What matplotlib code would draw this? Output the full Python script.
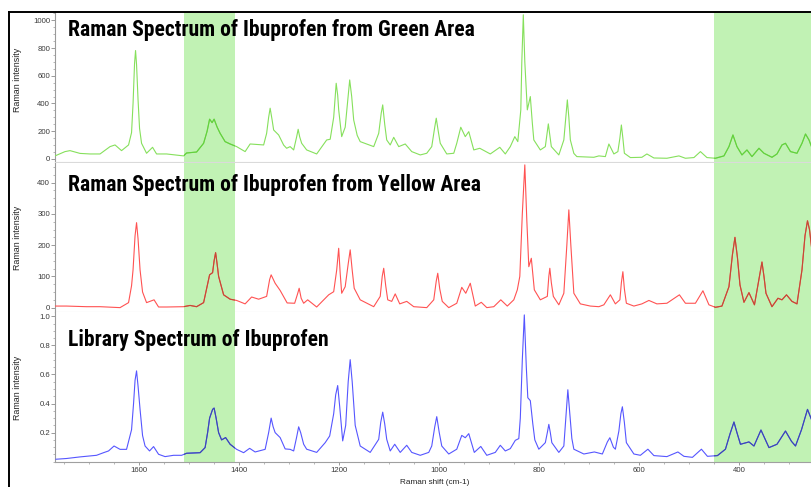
import matplotlib
matplotlib.use("Agg")
import matplotlib.pyplot as plt
from matplotlib.lines import Line2D
from matplotlib.ticker import MultipleLocator
from matplotlib import font_manager

# ---------------- data ----------------
green_spectrum = [
    (1767, 22), (1747, 53), (1737, 60), (1717, 40), (1697, 36), (1677, 36),
    (1657, 89), (1647, 101), (1634, 60), (1620, 101), (1614, 190), (1611, 400),
    (1608, 690), (1606, 782), (1604, 680), (1601, 426), (1598, 220), (1594, 113),
    (1584, 41), (1572, 84), (1564, 36), (1544, 36), (1510, 22), (1504, 43),
    (1484, 50), (1470, 113), (1463, 200), (1458, 287), (1453, 262), (1449, 287),
    (1443, 230), (1437, 185), (1427, 125), (1417, 108), (1404, 89), (1387, 53),
    (1377, 108), (1350, 101), (1344, 185), (1340, 300), (1337, 366), (1333, 280),
    (1330, 209), (1320, 173), (1310, 100), (1304, 77), (1297, 89), (1290, 65),
    (1284, 160), (1281, 214), (1278, 160), (1274, 113), (1264, 65), (1244, 36),
    (1224, 137), (1217, 142), (1210, 300), (1205, 546), (1202, 460), (1200, 354),
    (1194, 161), (1187, 229), (1182, 420), (1178, 570), (1174, 450), (1170, 281),
    (1163, 170), (1157, 125), (1130, 89), (1120, 185), (1115, 330), (1112, 390),
    (1108, 250), (1104, 137), (1097, 101), (1090, 156), (1080, 89), (1067, 108),
    (1054, 53), (1037, 29), (1024, 41), (1014, 89), (1008, 230), (1005, 294),
    (1001, 200), (997, 113), (984, 36), (970, 41), (964, 113), (956, 229),
    (947, 161), (940, 197), (930, 65), (918, 77), (897, 36), (878, 84),
    (867, 36), (857, 89), (848, 161), (842, 125), (836, 354), (834, 700),
    (831, 1040), (828, 700), (823, 354), (817, 450), (813, 260), (810, 137),
    (797, 65), (787, 89), (781, 253), (775, 89), (760, 29), (750, 137),
    (746, 300), (743, 426), (740, 300), (737, 137), (730, 40), (724, 17),
    (690, 12), (680, 22), (667, 17), (660, 108), (650, 36), (642, 53),
    (638, 150), (635, 245), (632, 150), (629, 41), (617, 10), (594, 12),
    (584, 36), (570, 7), (544, 5), (520, 22), (507, 5), (490, 10), (477, 53),
    (464, 10), (447, 5), (430, 22), (420, 89), (412, 173), (404, 89), (394, 29),
    (384, 65), (374, 17), (360, 77), (350, 41), (334, 12), (324, 36), (314, 101),
    (307, 113), (297, 53), (284, 41), (274, 113), (267, 180), (260, 137), (255, 89),
]

red_spectrum = [
    (1767, 5), (1744, 5), (1704, 3), (1677, 3), (1637, 0), (1620, 16),
    (1614, 70), (1611, 121), (1607, 230), (1604, 272), (1601, 220), (1597, 121),
    (1592, 50), (1584, 16), (1569, 25), (1560, 2), (1544, 2), (1510, 3),
    (1497, 7), (1484, 3), (1470, 16), (1458, 105), (1452, 112), (1449, 150),
    (1446, 176), (1443, 140), (1440, 100), (1430, 41), (1417, 27), (1404, 23),
    (1387, 12), (1374, 34), (1360, 27), (1344, 36), (1338, 90), (1335, 105),
    (1327, 78), (1317, 55), (1303, 15), (1288, 14), (1282, 45), (1279, 62),
    (1275, 30), (1270, 14), (1262, 25), (1244, 2), (1220, 41), (1210, 51),
    (1204, 120), (1200, 190), (1197, 110), (1194, 46), (1187, 67), (1181, 140),
    (1177, 185), (1173, 120), (1169, 62), (1157, 25), (1130, 3), (1117, 36),
    (1113, 100), (1110, 126), (1106, 70), (1102, 25), (1094, 20), (1087, 44),
    (1078, 12), (1064, 20), (1050, 3), (1024, 0), (1010, 25), (1005, 85),
    (1002, 110), (998, 60), (993, 20), (980, 0), (964, 14), (954, 65),
    (946, 46), (937, 78), (927, 5), (915, 17), (904, 0), (890, 3), (876, 25),
    (863, 5), (850, 25), (843, 57), (838, 100), (833, 300), (828, 457),
    (824, 280), (820, 131), (815, 158), (809, 57), (797, 25), (783, 36),
    (780, 100), (778, 126), (775, 80), (771, 36), (760, 9), (750, 46),
    (744, 200), (740, 313), (736, 200), (730, 46), (717, 12), (697, 5),
    (680, 3), (670, 9), (657, 41), (647, 12), (638, 25), (635, 80), (632, 115),
    (629, 60), (625, 14), (610, 5), (594, 12), (580, 23), (564, 12), (544, 14),
    (519, 41), (507, 14), (487, 14), (472, 54), (460, 9), (447, 1), (434, 5),
    (420, 67), (413, 170), (408, 225), (403, 160), (398, 73), (390, 17),
    (380, 48), (369, 9), (358, 110), (354, 146), (350, 100), (346, 46),
    (334, 3), (322, 30), (314, 25), (305, 41), (294, 20), (284, 12), (274, 121),
    (268, 230), (263, 278), (259, 250), (255, 195),
]

blue_spectrum = [
    (1765, 0.017), (1744, 0.022), (1717, 0.033), (1684, 0.044), (1670, 0.062),
    (1660, 0.074), (1649, 0.108), (1637, 0.085), (1624, 0.085), (1614, 0.22),
    (1610, 0.40), (1607, 0.56), (1604, 0.625), (1601, 0.52), (1597, 0.36),
    (1592, 0.18), (1587, 0.108), (1578, 0.074), (1570, 0.104), (1560, 0.051),
    (1547, 0.035), (1530, 0.044), (1514, 0.044), (1504, 0.058), (1477, 0.062),
    (1467, 0.097), (1462, 0.2), (1458, 0.3), (1452, 0.36), (1449, 0.369),
    (1445, 0.3), (1440, 0.2), (1434, 0.15), (1426, 0.166), (1417, 0.12),
    (1404, 0.085), (1390, 0.062), (1378, 0.092), (1367, 0.067), (1347, 0.085),
    (1340, 0.2), (1335, 0.3), (1331, 0.24), (1327, 0.2), (1317, 0.166),
    (1307, 0.088), (1297, 0.085), (1290, 0.074), (1284, 0.17), (1280, 0.24),
    (1276, 0.2), (1270, 0.12), (1264, 0.086), (1244, 0.064), (1227, 0.131),
    (1218, 0.177), (1210, 0.33), (1206, 0.46), (1202, 0.524), (1198, 0.38),
    (1192, 0.143), (1186, 0.25), (1181, 0.55), (1177, 0.702), (1173, 0.55),
    (1167, 0.25), (1157, 0.108), (1137, 0.064), (1120, 0.154), (1116, 0.27),
    (1112, 0.341), (1108, 0.26), (1104, 0.154), (1097, 0.074), (1088, 0.12),
    (1077, 0.064), (1064, 0.113), (1054, 0.064), (1037, 0.044), (1020, 0.064),
    (1014, 0.108), (1008, 0.24), (1004, 0.31), (999, 0.2), (994, 0.108),
    (980, 0.053), (964, 0.086), (954, 0.181), (947, 0.165), (940, 0.193),
    (929, 0.064), (916, 0.105), (904, 0.044), (887, 0.064), (877, 0.113),
    (867, 0.074), (857, 0.09), (847, 0.147), (840, 0.159), (837, 0.3),
    (833, 0.7), (829, 1.01), (825, 0.65), (822, 0.44), (817, 0.42), (812, 0.26),
    (808, 0.15), (800, 0.086), (787, 0.131), (783, 0.2), (780, 0.257),
    (777, 0.2), (774, 0.131), (760, 0.064), (750, 0.108), (746, 0.3),
    (742, 0.495), (738, 0.33), (734, 0.16), (730, 0.086), (710, 0.053),
    (689, 0.067), (673, 0.053), (663, 0.136), (658, 0.165), (651, 0.1),
    (647, 0.086), (640, 0.211), (636, 0.33), (633, 0.378), (629, 0.27),
    (625, 0.131), (610, 0.053), (597, 0.044), (582, 0.086), (570, 0.042),
    (544, 0.035), (522, 0.067), (510, 0.037), (493, 0.03), (475, 0.086),
    (463, 0.037), (443, 0.042), (427, 0.086), (418, 0.19), (410, 0.273),
    (404, 0.2), (397, 0.12), (380, 0.136), (370, 0.108), (356, 0.218),
    (340, 0.097), (324, 0.12), (307, 0.211), (295, 0.14), (287, 0.108),
    (275, 0.22), (263, 0.36), (255, 0.29),
]

titles = ["Raman Spectrum of Ibuprofen from Green Area",
          "Raman Spectrum of Ibuprofen from Yellow Area",
          "Library Spectrum of Ibuprofen"]
highlight_bands = [(1510, 1407), (449, 200)]
x_ticks = [1600, 1400, 1200, 1000, 800, 600, 400]
y_ticks_top = [0, 200, 400, 600, 800, 1000]
y_ticks_mid = [0, 100, 200, 300, 400]
y_ticks_bot = [0.2, 0.4, 0.6, 0.8, 1.0]
x_label = "Raman shift (cm-1)"
y_label = "Raman intensity"

# ---------------- style ----------------
fonts = font_manager.fontManager.ttflist
names = {f.name for f in fonts}
title_kw = dict(family=['Liberation Sans'], fontweight='bold')
if 'Liberation Sans Narrow' in names:
    title_kw = dict(family=['Liberation Sans Narrow'], fontweight='bold')
elif 'Roboto Condensed' in names:
    title_kw = dict(family=['Roboto Condensed'], fontweight='bold')
elif any(f.name == 'DejaVu Sans' and 'ondensed' in str(f.stretch) for f in fonts):
    title_kw = dict(family=['DejaVu Sans'], fontweight='bold', fontstretch='condensed')
elif 'Roboto' in names:
    title_kw = dict(family=['Roboto'], fontweight='bold')

plt.rcParams['font.family'] = ['Liberation Sans', 'DejaVu Sans']

W, H = 811, 487
fig = plt.figure(figsize=(W / 100, H / 100), dpi=100)
fig.patch.set_facecolor('white')

def fx(px):
    return px / W

def fy(py):
    return 1 - py / H

left_px, right_px = 54.5, 811
panels_px = [(12, 162), (163, 312), (312, 461.7)]
ylims = [(-22, 1060), (-14, 463), (0, 1.03)]
yticks = [y_ticks_top, y_ticks_mid, y_ticks_bot]
yminor = [50, 25, 0.05]
series = [green_spectrum, red_spectrum, blue_spectrum]
colors = ['#86e05c', '#ff5252', '#5656ff']
band_colors = ['#62d03e', '#c24a36', '#3c48b0']
band_fill = '#c1f2b4'
title_base_px = [36, 191.5, 346]
title_width_px = 408  # width of the first title in the reference
ylabel_center_px = [80, 237.5, 387.5]

axes = []
title_texts = []
for i, (top, bot) in enumerate(panels_px):
    ax = fig.add_axes([fx(left_px), fy(bot), fx(right_px - left_px), (bot - top) / H])
    ax.set_facecolor('white')
    ax.set_xlim(1768, 256)
    ax.set_ylim(*ylims[i])
    xs = [p[0] for p in series[i]]
    ys = [p[1] for p in series[i]]
    ax.plot(xs, ys, color=colors[i], lw=0.8, zorder=3)
    for (a, b) in highlight_bands:
        span = ax.axvspan(b, a, color=band_fill, lw=0, zorder=1)
        ln, = ax.plot(xs, ys, color=band_colors[i], lw=0.8, zorder=4)
        ln.set_clip_path(span)
    for s in ['top', 'right']:
        ax.spines[s].set_visible(False)
    ax.spines['left'].set_color('#9a9a9a')
    ax.spines['left'].set_linewidth(0.8)
    ax.set_yticks(yticks[i])
    if i == 2:
        ax.set_yticklabels([f"{v:.1f}" for v in yticks[i]])
    ax.yaxis.set_minor_locator(MultipleLocator(yminor[i]))
    ax.tick_params(axis='y', which='major', direction='out', length=2.6, width=0.6,
                   color='#8a8a8a', labelsize=5.6, labelcolor='#3a3a3a', pad=0.6)
    ax.tick_params(axis='y', which='minor', direction='out', length=1.4, width=0.5,
                   color='#9a9a9a')
    if i < 2:
        ax.spines['bottom'].set_color('#dadada')
        ax.spines['bottom'].set_linewidth(0.8)
        ax.set_xticks([])
        ax.tick_params(axis='x', which='both', bottom=False, labelbottom=False)
    else:
        ax.spines['bottom'].set_color('#a0a0a0')
        ax.spines['bottom'].set_linewidth(0.8)
        ax.set_xticks(x_ticks)
        ax.xaxis.set_minor_locator(MultipleLocator(50))
        ax.tick_params(axis='x', which='major', direction='out', length=2.4, width=0.6,
                       color='#8a8a8a', labelsize=5.6, labelcolor='#3a3a3a', pad=1.2)
        ax.tick_params(axis='x', which='minor', direction='out', length=1.4, width=0.5,
                       color='#9a9a9a')
    axes.append(ax)

    t = fig.text(fx(67.5), fy(title_base_px[i]), titles[i], fontsize=14.6,
                 color='black', ha='left', va='baseline', **title_kw)
    title_texts.append(t)
    fig.text(fx(18), fy(ylabel_center_px[i]), y_label, rotation=90,
             ha='center', va='center', fontsize=6.4, color='#222222')

# fit the title size to the reference width (condensed face in the original)
renderer = fig.canvas.get_renderer()
w0 = title_texts[0].get_window_extent(renderer).width
new_size = 14.6 * title_width_px / w0
new_size = min(max(new_size, 13.2), 15.6)
for t in title_texts:
    t.set_fontsize(new_size)

fig.text(fx(435), fy(483), x_label, ha='center', va='center', fontsize=5.9,
         color='#222222')

# outer frame lines
fig.add_artist(Line2D([fx(8.5), fx(8.5)], [0, fy(11.5)], color='black', lw=1.4,
                      transform=fig.transFigure))
fig.add_artist(Line2D([fx(8.5), 1], [fy(11.5), fy(11.5)], color='black', lw=1.4,
                      transform=fig.transFigure))

fig.savefig('out.png', dpi=100, facecolor='white')
